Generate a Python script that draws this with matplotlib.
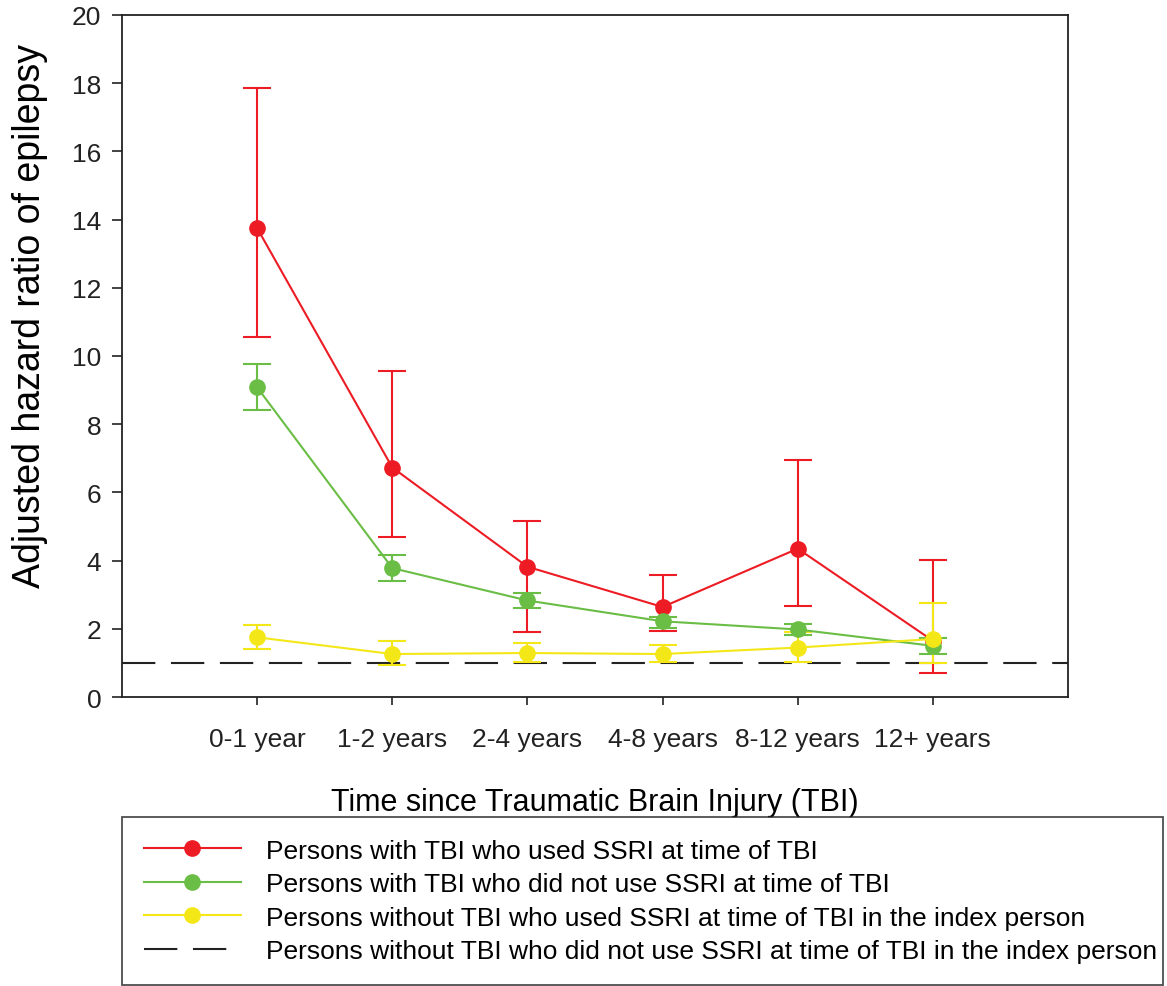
import numpy as np
import matplotlib.pyplot as plt

plt.rcParams['font.family'] = ['Liberation Sans', 'DejaVu Sans']

categories = ['0-1 year', '1-2 years', '2-4 years', '4-8 years', '8-12 years', '12+ years']

red_hr = [13.75, 6.73, 3.82, 2.64, 4.35, 1.65]
red_lo = [10.57, 4.70, 1.91, 1.95, 2.67, 0.70]
red_hi = [17.85, 9.57, 5.17, 3.59, 6.95, 4.02]

green_hr = [9.08, 3.78, 2.83, 2.22, 1.98, 1.50]
green_lo = [8.42, 3.40, 2.60, 2.03, 1.82, 1.26]
green_hi = [9.77, 4.15, 3.05, 2.36, 2.14, 1.73]

yellow_hr = [1.75, 1.26, 1.29, 1.26, 1.45, 1.70]
yellow_lo = [1.42, 0.94, 1.03, 1.02, 1.03, 1.00]
yellow_hi = [2.12, 1.64, 1.59, 1.53, 1.92, 2.76]

reference_hr = 1.0

labels = ['Persons with TBI who used SSRI at time of TBI',
          'Persons with TBI who did not use SSRI at time of TBI',
          'Persons without TBI who used SSRI at time of TBI in the index person',
          'Persons without TBI who did not use SSRI at time of TBI in the index person']

colors = ['#ED1C24', '#6ABD45', '#F4E718']

W, H = 1167, 987
fig = plt.figure(figsize=(W / 100, H / 100), dpi=100)
ax = fig.add_axes([122 / W, 1 - 698 / H, (1068 - 122) / W, (698 - 16) / H])

x = np.arange(len(categories))
series = [(red_hr, red_lo, red_hi), (green_hr, green_lo, green_hi), (yellow_hr, yellow_lo, yellow_hi)]
handles = []
for (hr, lo, hi), c, lab in zip(series, colors, labels):
    hr = np.array(hr)
    err = [hr - np.array(lo), np.array(hi) - hr]
    ax.errorbar(x, hr, yerr=err, fmt='none', ecolor=c, elinewidth=1.5, capsize=10, capthick=1.5, zorder=2)
    h, = ax.plot(x, hr, '-o', color=c, lw=1.5, markersize=11, label=lab, zorder=3)
    handles.append(h)

hd = ax.axhline(reference_hr, color='#222222', lw=1.5, ls=(0, (16, 7.5)), label=labels[3], zorder=1)
handles.append(hd)

ax.set_xlim(-1, 6)
ax.set_ylim(0, 20)
ax.set_yticks(np.arange(0, 21, 2))
ax.set_xticks(x)
ax.set_xticklabels(categories)
ax.tick_params(axis='both', labelsize=19, direction='out', width=1.2, colors='#222222')
ax.tick_params(axis='y', length=7, pad=8)
ax.tick_params(axis='x', length=5.5, pad=16)
for s in ax.spines.values():
    s.set_linewidth(1.3)
    s.set_color('#222222')
ax.set_ylabel('Adjusted hazard ratio of epilepsy', fontsize=27)
ax.yaxis.set_label_coords(-0.078, 0.56)
ax.set_xlabel('Time since Traumatic Brain Injury (TBI)', fontsize=22, labelpad=26)

leg = fig.legend(handles=handles, labels=labels, loc='upper left',
                 bbox_to_anchor=(122 / W, 1 - 985 / H, (1163 - 122) / W, (985 - 818) / H),
                 mode='expand', fontsize=19, frameon=True, fancybox=False,
                 edgecolor='#222222', handlelength=3.7, borderpad=0.82, labelspacing=0.36,
                 handletextpad=0.95, borderaxespad=0)
leg.get_frame().set_linewidth(1.3)

fig.savefig('out.png', dpi=100)
plt.close(fig)
